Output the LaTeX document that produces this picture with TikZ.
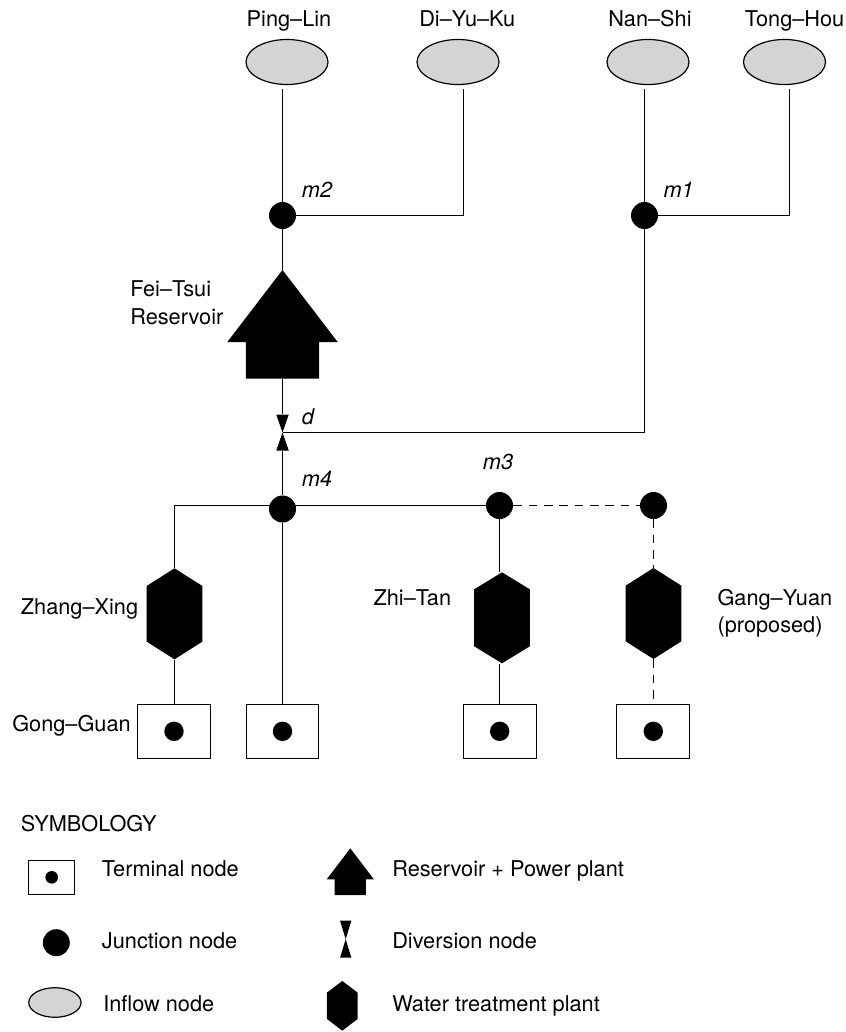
\documentclass[tikz,border=0pt]{standalone}
\usepackage{fontspec}
\setmainfont{TeX Gyre Heros}
\usetikzlibrary{calc,shapes.geometric}
\tikzset{
  line/.style={line width=1pt,black},
  dashline/.style={line width=1pt,black,dash pattern=on 6.5pt off 5pt},
  txt/.style={anchor=base west,inner sep=0pt,font=\fontsize{16.3}{20}\selectfont},
  txtc/.style={anchor=base,inner sep=0pt,font=\fontsize{16.3}{20}\selectfont},
  txti/.style={txt,font=\fontsize{16.3}{20}\selectfont\itshape},
  junction/.style={circle,fill=black,inner sep=0pt,minimum size=#1*0.75pt},
  junction/.default=27,
  inflow/.style 2 args={ellipse,draw=black,line width=0.9pt,fill=black!17,inner sep=0pt,
    minimum width=#1*0.75pt,minimum height=#2*0.75pt},
  terminal/.style 2 args={rectangle,draw=black,line width=0.9pt,fill=white,inner sep=0pt,outer sep=0pt,
    minimum width=#1*0.75pt,minimum height=#2*0.75pt},
  hexplant/.style n args={3}{rectangle,inner sep=0pt,
    minimum width=#1*0.75pt,minimum height=#2*0.75pt,
    path picture={
      \path (path picture bounding box.north west) coordinate (ppnw)
            (path picture bounding box.south east) coordinate (ppse);
      \fill[black] ($(ppnw)!.5!(ppnw-|ppse)$)
        -- ($(ppnw-|ppse)!#3!(ppse)$) -- ($(ppse)!#3!(ppnw-|ppse)$)
        -- ($(ppse)!.5!(ppnw|-ppse)$)
        -- ($(ppnw|-ppse)!#3!(ppnw)$) -- ($(ppnw)!#3!(ppnw|-ppse)$) -- cycle;
    }},
  reservoir/.style 2 args={rectangle,inner sep=0pt,
    minimum width=#1*0.75pt,minimum height=#2*0.75pt,
    path picture={
      \path (path picture bounding box.north west) coordinate (ppnw)
            (path picture bounding box.south east) coordinate (ppse);
      \path ($(ppnw)!.665!(ppnw|-ppse)$) coordinate (ppwl)
            ($(ppnw-|ppse)!.665!(ppse)$) coordinate (ppwr);
      \path ($(ppwl)!.169!(ppwr)$) coordinate (ppbl)
            ($(ppwr)!.169!(ppwl)$) coordinate (ppbr);
      \fill[black] ($(ppnw)!.5!(ppnw-|ppse)$) -- (ppwr)
        -- (ppbr) -- (ppbr|-ppse)
        -- (ppbl|-ppse) -- (ppbl)
        -- (ppwl) -- cycle;
    }},
  diversion/.style 2 args={rectangle,inner sep=0pt,
    minimum width=#1*0.75pt,minimum height=#2*0.75pt,
    path picture={
      \path (path picture bounding box.north west) coordinate (ppnw)
            (path picture bounding box.south east) coordinate (ppse);
      \fill[black] (ppnw) -- (ppnw-|ppse) -- (ppnw|-ppse) -- (ppse) -- cycle;
    }},
}
\begin{document}
\begin{tikzpicture}[x=0.75pt,y=-0.75pt]
\useasboundingbox (0,0) rectangle (846,1032);
\fill[white] (0,0) rectangle (846,1032);

% inflow nodes
\node[inflow={82}{45}] (pinglin) at (287,62) {};
\node[inflow={82}{45}] (diyuku) at (458,62) {};
\node[inflow={82}{45}] (nanshi) at (648,62) {};
\node[inflow={82}{45}] (tonghou) at (784.5,62) {};
\node[txtc] (lpinglin) at (289,26) {Ping–Lin};
\node[txtc] (ldiyuku) at (467.3,26) {Di–Yu–Ku};
\node[txtc] (lnanshi) at (650,26) {Nan–Shi};
\node[txtc] (ltonghou) at (794.5,26) {Tong–Hou};

% free line ends under the inflow nodes
\coordinate (opinglin) at (282.5,89);
\coordinate (odiyuku) at (463.5,89);
\coordinate (onanshi) at (644.5,89);
\coordinate (otonghou) at (789.5,89);

% junctions
\node[junction] (m2) at (282.5,215.5) {};
\node[junction] (m1) at (644.5,215.5) {};
\node[junction] (m4) at (282.5,509) {};
\node[junction] (m3) at (499.5,505.5) {};
\node[junction] (m5) at (653.5,505.5) {};

% reservoir and diversion
\node[reservoir={110.7}{108.7}] (fei) at (282.5,324.3) {};
\node[diversion={12.5}{36}] (div) at (282.5,432.5) {};

% plants
\node[hexplant={55.7}{91}{.194}] (zhang) at (174.5,613.8) {};
\node[hexplant={55.7}{91}{.187}] (zhi) at (502,617.8) {};
\node[hexplant={55.7}{91}{.194}] (gang) at (653.5,613.5) {};

% terminals
\node[terminal={73}{54}] (t1) at (174,731.5) {};
\node[terminal={72}{54}] (t2) at (282.5,731.5) {};
\node[terminal={73}{54}] (t3) at (500,731.5) {};
\node[terminal={73}{54}] (t4) at (653,731.5) {};
\node[junction=19.4] (d1) at (174,731.3) {};
\node[junction=19.4] (d2) at (282.5,731.3) {};
\node[junction=19.4] (d3) at (499.7,731.3) {};
\node[junction=19.4] (d4) at (653.3,731.3) {};

% connectors
\draw[line] (opinglin) -- (m2);
\draw[line] (odiyuku) |- (m2);
\draw[line] (onanshi) -- (m1);
\draw[line] (otonghou) |- (m1);
\draw[line] (m2) -- (fei.north);
\draw[line] (fei.south) -- (div.north);
\draw[line] (m1) |- (div.center);
\draw[line] (m4) -- (div.south);
\draw[line] (zhang.north) |- (m3);
\draw[line] (m4) -- (m4|-t2.north);
\draw[line] (zhang.south) -- (zhang.south|-t1.north);
\draw[line] (m3) -- (m3|-zhi.north);
\draw[line] (m3|-zhi.south) -- (m3|-t3.north);
\draw[dashline] (m3) -- (m5);
\draw[dashline] (m5) -- (gang.north);
\draw[dashline] (gang.south) -- (gang.south|-t4.north);

% labels
\node[txti] (lm2) at (301.7,197.5) {m2};
\node[txti] (lm1) at (663.3,197.5) {m1};
\node[txti] (ld) at (301.7,424) {d};
\node[txti] (lm4) at (301.7,486.7) {m4};
\node[txti] (lm3) at (482.7,469.3) {m3};
\node[txt] (lfei1) at (130,296.7) {Fei–Tsui};
\node[txt] (lfei2) at (130,324.5) {Reservoir};
\node[txt] (lzhang) at (20.7,614.3) {Zhang–Xing};
\node[txt] (lgong) at (12,731) {Gong–Guan};
\node[txt] (lzhi) at (373.3,605) {Zhi–Tan};
\node[txt] (lgang1) at (717.3,605) {Gang–Yuan};
\node[txt] (lgang2) at (717.3,632.7) {(proposed)};

% legend
\node[txt] (lsym) at (20.7,831) {SYMBOLOGY};
\node[terminal={46}{34}] (kt) at (51.5,877.5) {};
\node[junction=12.6] (ktd) at (51.7,877.3) {};
\node[junction] (kj) at (56.3,942.7) {};
\node[inflow={52.3}{29.6}] (ki) at (54.9,1002.5) {};
\node[reservoir={47.3}{46.7}] (kr) at (350.3,871.7) {};
\node[diversion={11.3}{37}] (kd) at (345.7,939.2) {};
\node[hexplant={30.7}{49.7}{.235}] (kh) at (342.3,1005.8) {};
\node[txt] (lkt) at (101.7,876) {Terminal node};
\node[txt] (lkj) at (101.7,948) {Junction node};
\node[txt] (lki) at (103,1011.7) {Inflow node};
\node[txt] (lkr) at (392,876) {Reservoir + Power plant};
\node[txt] (lkd) at (392,948) {Diversion node};
\node[txt] (lkh) at (392,1011.7) {Water treatment plant};
\end{tikzpicture}
\end{document}
